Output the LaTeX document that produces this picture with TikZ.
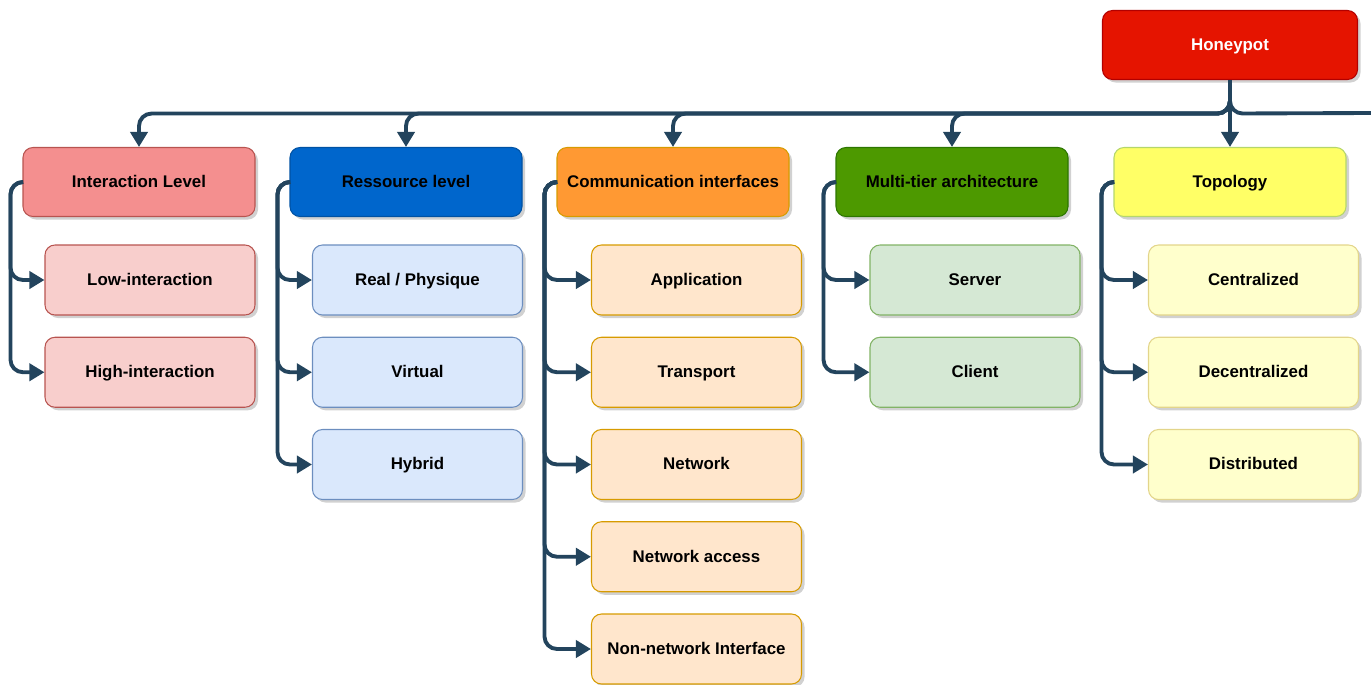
\documentclass[tikz,border=0pt]{standalone}
\usepackage{fontspec}
\setmainfont{Liberation Sans}
\usetikzlibrary{arrows.meta, positioning, shadows}

\definecolor{linkc}{HTML}{23445D}
\definecolor{hpfill}{HTML}{E51400}
\definecolor{hpdraw}{HTML}{B20000}
\definecolor{ilfill}{HTML}{F48F8F}
\definecolor{ildraw}{HTML}{B85450}
\definecolor{rlfill}{HTML}{0066CC}
\definecolor{rldraw}{HTML}{0052A3}
\definecolor{cifill}{HTML}{FF9933}
\definecolor{cidraw}{HTML}{D79B00}
\definecolor{mtfill}{HTML}{4D9900}
\definecolor{mtdraw}{HTML}{2D7600}
\definecolor{tpfill}{HTML}{FFFF66}
\definecolor{tpdraw}{HTML}{B5D66B}
\definecolor{ilsub}{HTML}{F8CECC}
\definecolor{rlsub}{HTML}{DAE8FC}
\definecolor{rlsubd}{HTML}{6C8EBF}
\definecolor{cisub}{HTML}{FFE6CC}
\definecolor{mtsub}{HTML}{D5E8D4}
\definecolor{mtsubd}{HTML}{82B366}
\definecolor{tpsub}{HTML}{FFFFCC}
\definecolor{tpsubd}{HTML}{E3D58A}

\begin{document}
\begin{tikzpicture}[
        box/.style={draw, rounded corners=0.2cm, line width=0.6pt,
            font=\bfseries\fontsize{9.6}{11.5}\selectfont, text height=1.6ex, text depth=0.45ex,
            drop shadow={shadow xshift=0.06cm, shadow yshift=-0.06cm, fill=black!45, opacity=0.4}},
        catbox/.style={box, minimum width=4.64cm, minimum height=1.38cm},
        subbox/.style={box, minimum width=4.2cm, minimum height=1.4cm},
        arrow/.style={-{Triangle[length=0.3cm, width=0.34cm]}, line width=2.2pt, draw=linkc, rounded corners=0.25cm}
    ]
        \useasboundingbox (0,0) rectangle (27.42,-13.68);

        % --- root ---
        \node[catbox, minimum width=5.1cm, fill=hpfill, draw=hpdraw, text=white] (hp) at (24.6,-0.9) {Honeypot};
        \coordinate (busend) at (27.42,-2.26);

        % --- categories ---
        \node[catbox, fill=ilfill, draw=ildraw] (il) at (2.78,-3.64) {Interaction Level};
        \node[catbox, fill=rlfill, draw=rldraw] (rl) at (8.12,-3.64) {Ressource level};
        \node[catbox, fill=cifill, draw=cidraw] (ci) at (13.46,-3.64) {Communication interfaces};
        \node[catbox, fill=mtfill, draw=mtdraw] (mt) at (19.04,-3.64) {Multi-tier architecture};
        \node[catbox, fill=tpfill, draw=tpdraw] (tp) at (24.6,-3.64) {Topology};

        % Bus from the root down to each category
        \foreach \c in {il, rl, ci, mt} {
            \draw[arrow] (hp.south) -- ++(0,-0.67) -| (\c.north);
        }
        \draw[arrow] (hp.south) -- (tp.north);
        \draw[arrow, -] (hp.south) -- ++(0,-0.67) -- (busend);

        % --- sub-items, each hooked to its category ---
        \foreach \t [count=\i] in {Low-interaction, High-interaction} {
            \node[subbox, fill=ilsub, draw=ildraw] (il\i) at (3.0,-3.755-\i*1.845) {\t};
            \draw[arrow] (il.west) -- ++(-0.24,0) |- (il\i.west);
        }
        \foreach \t [count=\i] in {{Real / Physique}, Virtual, Hybrid} {
            \node[subbox, fill=rlsub, draw=rlsubd] (rl\i) at (8.35,-3.755-\i*1.845) {\t};
            \draw[arrow] (rl.west) -- ++(-0.24,0) |- (rl\i.west);
        }
        \foreach \t [count=\i] in {Application, Transport, Network, Network access, Non-network Interface} {
            \node[subbox, fill=cisub, draw=cidraw] (ci\i) at (13.93,-3.755-\i*1.845) {\t};
            \draw[arrow] (ci.west) -- ++(-0.24,0) |- (ci\i.west);
        }
        \foreach \t [count=\i] in {Server, Client} {
            \node[subbox, fill=mtsub, draw=mtsubd] (mt\i) at (19.5,-3.755-\i*1.845) {\t};
            \draw[arrow] (mt.west) -- ++(-0.24,0) |- (mt\i.west);
        }
        \foreach \t [count=\i] in {Centralized, Decentralized, Distributed} {
            \node[subbox, fill=tpsub, draw=tpsubd] (tp\i) at (25.07,-3.755-\i*1.845) {\t};
            \draw[arrow] (tp.west) -- ++(-0.24,0) |- (tp\i.west);
        }

    \end{tikzpicture}
\end{document}
